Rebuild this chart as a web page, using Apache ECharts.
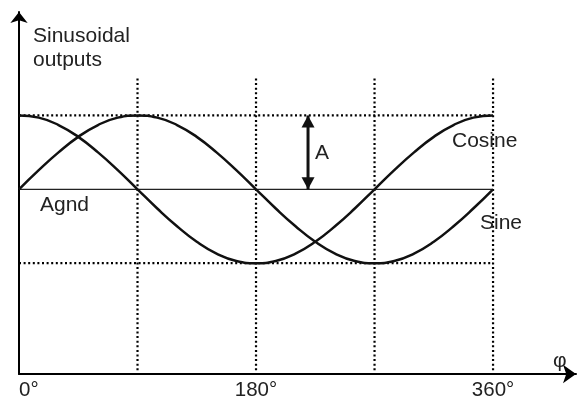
<!DOCTYPE html>
<html>
<head>
<meta charset="utf-8">
<script src="https://cdn.jsdelivr.net/npm/echarts@6/dist/echarts.min.js"></script>
<style>
html,body{margin:0;padding:0;background:#fff;}
#chart{width:582px;height:401px;}
</style>
</head>
<body>
<div id="chart"></div>
<script>
// Phase angles (degrees)
var angles = [0,15,30,45,60,75,90,105,120,135,150,165,180,195,210,225,240,255,270,285,300,315,330,345,360];
// Sine output (in units of amplitude A)
var sineValues = [0,0.26,0.5,0.71,0.87,0.97,1,0.97,0.87,0.71,0.5,0.26,0,-0.26,-0.5,-0.71,-0.87,-0.97,-1,-0.97,-0.87,-0.71,-0.5,-0.26,0];
// Cosine output
var cosineValues = [1,0.97,0.87,0.71,0.5,0.26,0,-0.26,-0.5,-0.71,-0.87,-0.97,-1,-0.97,-0.87,-0.71,-0.5,-0.26,0,0.26,0.5,0.71,0.87,0.97,1];
// Tick labels on the phase axis
var tickValues = [0,180,360];
var tickLabels = ['0°','180°','360°'];
// Dotted reference lines
var gridAngles = [90,180,270,360];
var gridLevels = [1,-1];
var gridTop = 1.5, gridBottom = -2.5;
// Ground (Agnd) level and amplitude marker
var agndLevel = 0;
var amplitude = 1;
var amplitudeAngle = 219.5;

var FONT = '"Liberation Sans", Arial, sans-serif';
var chart = echarts.init(document.getElementById('chart'), null, {renderer:'canvas'});

var dotStyle = {color:'#000', width:2.2, type:[2,2.6]};
var series = [];
gridAngles.forEach(function(a){
  series.push({type:'line', data:[[a,gridTop],[a,gridBottom]], symbol:'none', lineStyle:dotStyle, silent:true, z:1});
});
gridLevels.forEach(function(l){
  series.push({type:'line', data:[[0,l],[360,l]], symbol:'none', lineStyle:dotStyle, silent:true, z:1});
});
series.push({type:'line', data:[[0,agndLevel],[360,agndLevel]], symbol:'none', lineStyle:{color:'#222', width:1.2}, silent:true, z:2});
series.push({type:'line', name:'Sine', smooth:true, symbol:'none', data:angles.map(function(a,i){return [a,sineValues[i]];}), lineStyle:{color:'#111', width:2.5}, z:3});
series.push({type:'line', name:'Cosine', smooth:true, symbol:'none', data:angles.map(function(a,i){return [a,cosineValues[i]];}), lineStyle:{color:'#111', width:2.5}, z:3});
series.push({type:'line', data:[
  {value:[amplitudeAngle, agndLevel], symbolRotate:180, symbolOffset:[0,-6]},
  {value:[amplitudeAngle, agndLevel+amplitude], symbolRotate:0, symbolOffset:[0,6]}
], symbol:'triangle', symbolSize:[13,12], showSymbol:true, itemStyle:{color:'#111'}, lineStyle:{color:'#111', width:3}, silent:true, z:4});

var textStyleBase = {font:'21px ' + FONT, fill:'#222', verticalAlign:'middle'};
function txt(t,x,y,align){
  return {type:'text', x:x, y:y, style:Object.assign({}, textStyleBase, {text:t, align:align||'left'}), z:10};
}

chart.setOption({
  animation:false,
  grid:{left:19, right:6, top:12, bottom:27},
  xAxis:{
    type:'value', min:0, max:423, interval:180,
    axisLine:{onZero:false, lineStyle:{color:'#000', width:2}, symbol:['none','arrow'], symbolSize:[14,13]},
    axisTick:{show:false},
    splitLine:{show:false},
    axisLabel:{
      color:'#222', fontSize:20.5, fontFamily:FONT, margin:6, alignMinLabel:'left',
      formatter:function(v){ var i = tickValues.indexOf(v); return i>=0 ? tickLabels[i] : ''; }
    }
  },
  yAxis:{
    type:'value', min:-2.5, max:2.4,
    axisLine:{show:true, onZero:false, lineStyle:{color:'#000', width:2}, symbol:['none','arrow'], symbolSize:[13,11]},
    axisTick:{show:false},
    axisLabel:{show:false},
    splitLine:{show:false}
  },
  series:series,
  graphic:[
    txt('Sinusoidal', 33, 36),
    txt('outputs', 33, 60),
    txt('Agnd', 40, 205),
    txt('A', 315, 153),
    txt('Cosine', 452, 141),
    txt('Sine', 480, 223),
    txt('φ', 553, 361)
  ]
});
</script>
</body>
</html>
